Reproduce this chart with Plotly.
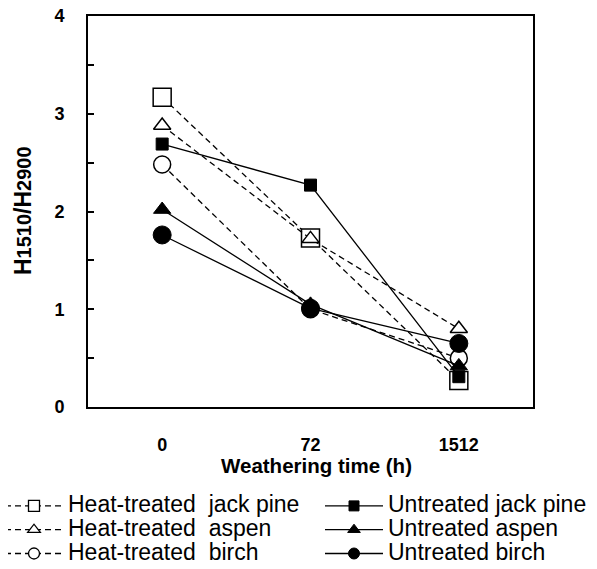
import plotly.graph_objects as go

# weathering time categories (h)
times = ["0", "72", "1512"]

# H1510/H2900 ratio
ht_jack_pine = [3.17, 1.73, 0.27]
ht_aspen = [2.88, 1.72, 0.80]
ht_birch = [2.48, 1.00, 0.50]
un_jack_pine = [2.69, 2.27, 0.31]
un_aspen = [2.02, 1.05, 0.42]
un_birch = [1.76, 1.01, 0.65]

FONT = "Arial, Liberation Sans, sans-serif"

# the page body adds an 8px offset, so the figure is 8px smaller
OFF = 8
W, H = 597 - OFF, 569 - OFF
L, R, T, B = 88 - OFF, 64, 16 - OFF, 162
PW, PH = W - L - R, H - T - B


def px_x(p):
    # page pixel -> paper x
    return (p - OFF - L) / PW


def px_y(p):
    # page pixel -> paper y
    return (H - B - (p - OFF)) / PH


def lbl(t):
    return f'<span style="font-size:23px">{t}</span>'


fig = go.Figure()

# (values, legend name, symbol, plot size, legend size, heat-treated?)
series = [
    (ht_jack_pine, "Heat-treated  jack pine", "square", 18, 11, True),
    (ht_aspen, "Heat-treated  aspen", "triangle-up", 15, 11, True),
    (ht_birch, "Heat-treated  birch", "circle", 17, 11, True),
    (un_jack_pine, "Untreated jack pine", "square", 12, 10, False),
    (un_aspen, "Untreated aspen", "triangle-up", 15, 11, False),
    (un_birch, "Untreated birch", "circle", 18, 11, False),
]

for vals, name, sym, size, lsize, heat in series:
    line = dict(color="black", width=1.3, dash="6px,4px" if heat else "solid")
    fill = "white" if heat else "black"
    fig.add_trace(go.Scatter(
        x=times, y=vals, mode="lines+markers", showlegend=False,
        line=line,
        marker=dict(symbol=sym, size=size, color=fill,
                    line=dict(color="black", width=1.5 if heat else 1)),
    ))
    # legend entry with smaller marker, as in the reference
    fig.add_trace(go.Scatter(
        x=[None], y=[None], mode="lines+markers", name=lbl(name),
        line=line,
        marker=dict(symbol=sym, size=lsize, color=fill,
                    line=dict(color="black", width=1.3 if heat else 1)),
        legend="legend" if heat else "legend2",
    ))

leg = dict(
    orientation="v", xanchor="left", yanchor="top",
    y=px_y(489),
    font=dict(family=FONT, size=16, color="black"),
    itemwidth=58, bgcolor="rgba(0,0,0,0)", tracegroupgap=0,
)

fig.update_layout(
    width=W, height=H,
    paper_bgcolor="white", plot_bgcolor="white",
    font=dict(family=FONT, color="black"),
    margin=dict(l=L, r=R, t=T, b=B, autoexpand=False),
    showlegend=True,
    legend=dict(leg, x=px_x(0)),
    legend2=dict(leg, x=px_x(320)),
    xaxis=dict(
        type="category", range=[-0.5, 2.5], automargin=False,
        showline=True, linecolor="black", linewidth=2, mirror=True,
        ticks="", showgrid=False, zeroline=False,
        tickfont=dict(family=FONT, size=18, color="black", weight="bold"),
        ticklabelstandoff=20, ticklabeloverflow="allow",
    ),
    yaxis=dict(
        range=[0, 4], dtick=1, tick0=0, automargin=False,
        showline=True, linecolor="black", linewidth=2, mirror=True,
        ticks="inside", ticklen=6, tickwidth=1.5, tickcolor="black",
        minor=dict(dtick=0.5, ticks="inside", ticklen=6, tickwidth=1.5,
                   tickcolor="black", showgrid=False),
        showgrid=False, zeroline=False,
        tickfont=dict(family=FONT, size=18, color="black", weight="bold"),
        ticklabelstandoff=18, ticklabeloverflow="allow",
    ),
)

# x-axis title
fig.add_annotation(
    xref="paper", yref="paper", x=px_x(316), y=px_y(465),
    xanchor="center", yanchor="middle", showarrow=False,
    text="<b>Weathering time (h)</b>",
    font=dict(family=FONT, size=20.5, color="black"),
)

# y-axis title with smaller digits
fig.add_annotation(
    xref="paper", yref="paper", x=px_x(23), y=px_y(211),
    xanchor="center", yanchor="middle", textangle=-90, showarrow=False,
    text=('<b><span style="font-size:23px">H</span>1510'
          '<span style="font-size:23px">/H</span>2900</b>'),
    font=dict(family=FONT, size=20, color="black"),
)

fig.write_html("out.html")
